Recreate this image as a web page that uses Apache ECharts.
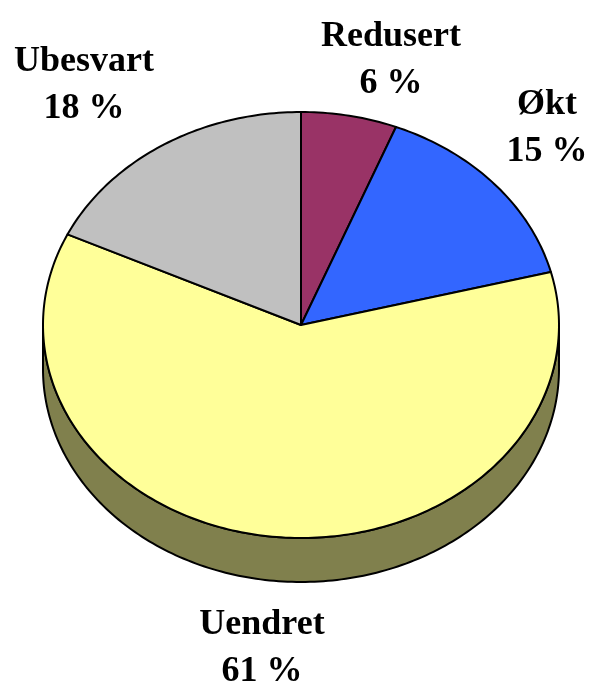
<!DOCTYPE html>
<html>
<head>
<meta charset="utf-8">
<script src="https://cdn.jsdelivr.net/npm/echarts@6/dist/echarts.min.js"></script>
<style>
  html, body { margin: 0; padding: 0; background: #fff; }
  #chart { width: 591px; height: 684px; }
</style>
</head>
<body>
<div id="chart"></div>
<script>
  // data
  var categories = ['Redusert', 'Økt', 'Uendret', 'Ubesvart'];
  var shares = [6, 15, 61, 18];
  var colors = ['#993366', '#3366FF', '#FFFF99', '#C0C0C0'];
  var sideColors = ['#4D1A33', '#1A3380', '#80804D', '#606060'];

  // layout of the tilted pie
  var cx = 301, cy = 325, rx = 258, ry = 213, depth = 44;
  var labelAt = {
    'Redusert': [391, 60],
    'Økt': [547, 128],
    'Uendret': [262, 648],
    'Ubesvart': [84, 85]
  };

  var total = shares.reduce(function (a, b) { return a + b; }, 0);

  function angles(i) {
    var before = 0;
    for (var k = 0; k < i; k++) before += shares[k];
    var a0 = -Math.PI / 2 + 2 * Math.PI * before / total;
    var a1 = a0 + 2 * Math.PI * shares[i] / total;
    return [a0, a1];
  }

  function arc(a0, a1, dy) {
    var pts = [];
    var n = Math.max(2, Math.ceil(Math.abs(a1 - a0) / (Math.PI / 180)));
    for (var j = 0; j <= n; j++) {
      var a = a0 + (a1 - a0) * j / n;
      pts.push([cx + rx * Math.cos(a), cy + ry * Math.sin(a) + dy]);
    }
    return pts;
  }

  var chart = echarts.init(document.getElementById('chart'));
  chart.setOption({
    animation: false,
    series: [
      {
        // side walls (front half only)
        type: 'custom',
        coordinateSystem: 'none',
        silent: true,
        z: 1,
        data: shares,
        renderItem: function (params, api) {
          var i = params.dataIndex;
          var a = angles(i);
          var s = Math.max(a[0], 0), e = Math.min(a[1], Math.PI);
          if (e <= s) return { type: 'group', children: [] };
          var pts = arc(s, e, 0).concat(arc(e, s, depth));
          return {
            type: 'polygon',
            shape: { points: pts },
            style: { fill: sideColors[i], stroke: '#000', lineWidth: 2 }
          };
        }
      },
      {
        // top faces with labels
        type: 'custom',
        coordinateSystem: 'none',
        silent: true,
        z: 2,
        data: shares,
        renderItem: function (params, api) {
          var i = params.dataIndex;
          var a = angles(i);
          var pts = [[cx, cy]].concat(arc(a[0], a[1], 0));
          var pos = labelAt[categories[i]];
          return {
            type: 'group',
            children: [
              {
                type: 'polygon',
                shape: { points: pts },
                style: { fill: colors[i], stroke: '#000', lineWidth: 2, lineJoin: 'round' }
              },
              {
                type: 'text',
                x: pos[0],
                y: pos[1],
                style: {
                  text: categories[i] + '\n' + api.value(0) + ' %',
                  fill: '#000',
                  font: 'bold 36px "Liberation Serif", "Times New Roman", serif',
                  align: 'center',
                  verticalAlign: 'middle',
                  lineHeight: 47
                }
              }
            ]
          };
        }
      }
    ]
  });
</script>
</body>
</html>
